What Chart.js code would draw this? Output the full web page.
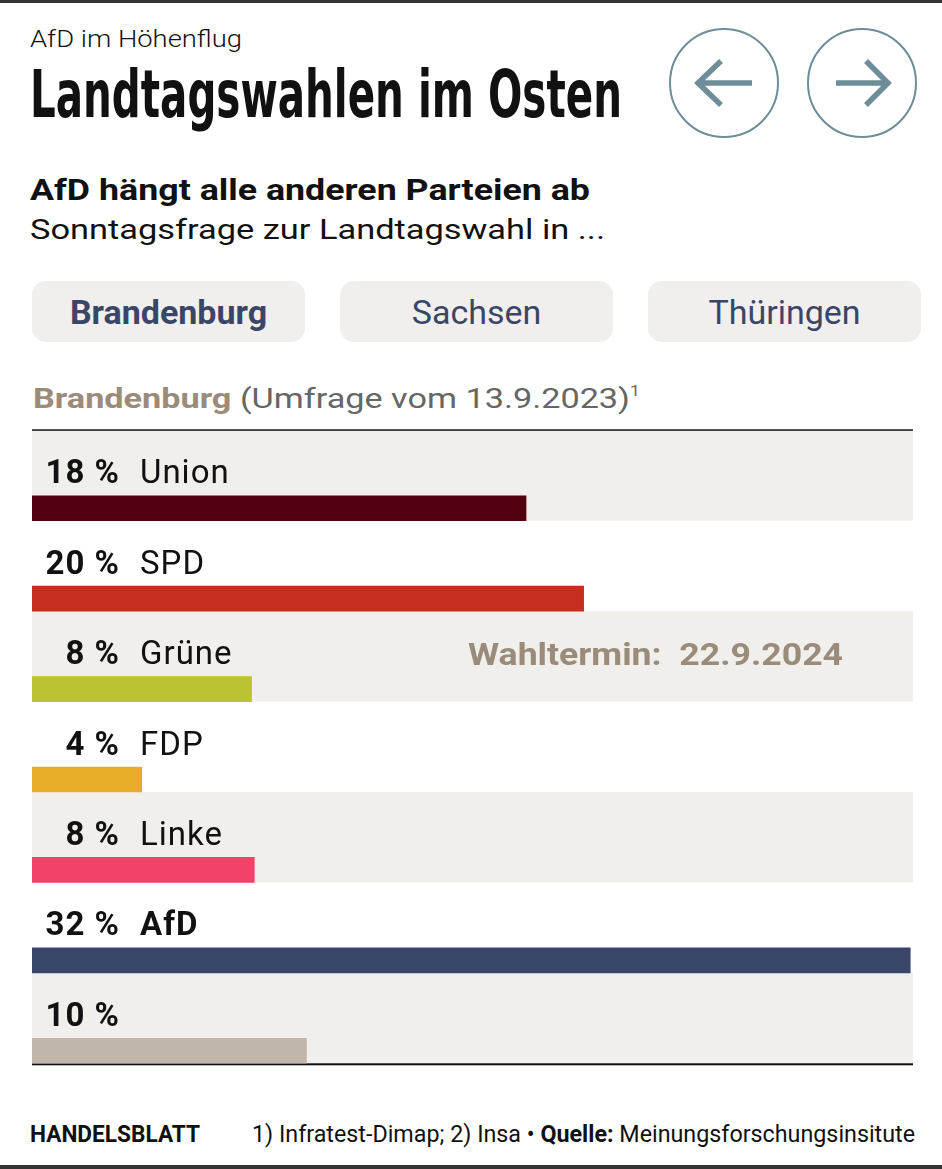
<!DOCTYPE html>
<html lang="de">
<head>
<meta charset="utf-8">
<title>Landtagswahlen im Osten</title>
<script src="https://cdn.jsdelivr.net/npm/chart.js@4.4.1/dist/chart.umd.min.js"></script>
<style>
  html, body { margin: 0; padding: 0; background: #fff; }
  body { width: 942px; height: 1169px; position: relative; overflow: hidden; font-family: Roboto, "Noto Sans", sans-serif; color: #111; }
  .abs { position: absolute; white-space: nowrap; line-height: 1; }
  .fit { display: inline-block; transform-origin: 0 0; }
  .rule { position: absolute; left: 0; width: 942px; height: 3px; background: #333; }
  .kicker { left: 30px; top: 27px; font-size: 24px; font-weight: 300; }
  .title { left: 30px; top: 62px; font-size: 66px; font-weight: 700; font-family: "Liberation Sans Narrow", "DejaVu Sans Condensed", Roboto, sans-serif; }
  .sub1 { left: 30px; top: 176px; font-size: 29px; font-weight: 700; }
  .sub2 { left: 30px; top: 216px; font-size: 28px; font-weight: 400; }
  .tab { position: absolute; top: 281px; width: 273px; height: 61px; border-radius: 14px; background: #f0efed;
         display: flex; align-items: center; justify-content: center; font-size: 34px; color: #3a4668; }
  .head { left: 33px; top: 384px; font-size: 27px; color: #666; }
  .head b { color: #9a8b7b; }
  .head sup { font-size: 14px; vertical-align: 12px; }
  .termin { left: 468px; top: 638px; font-size: 32px; font-weight: 700; color: #9a8b7b; z-index: 2; }
  .foot1 { left: 30px; top: 1122px; font-size: 24px; font-weight: 700; }
  .foot2 { left: 252px; top: 1122px; font-size: 24px; font-weight: 400; }
  #wrap { position: absolute; left: 0; top: 420px; width: 942px; height: 700px; }
</style>
</head>
<body>
<div class="rule" style="top:0"></div>

<div class="abs kicker"><span class="fit" data-w="212">AfD im Höhenflug</span></div>
<div class="abs title"><span class="fit" data-w="592">Landtagswahlen im Osten</span></div>

<svg style="position:absolute;left:0;top:0" width="942" height="150">
  <g fill="none" stroke="#6d8d98">
    <circle cx="724" cy="83" r="54" stroke-width="2"/>
    <circle cx="862" cy="83" r="54" stroke-width="2"/>
    <path d="M698 83 H752 M721 61 L698 83 L721 105" stroke-width="5.5"/>
    <path d="M836 83 H888 M866 61 L888 83 L866 105" stroke-width="5.5"/>
  </g>
</svg>

<div class="abs sub1"><span class="fit" data-w="560">AfD hängt alle anderen Parteien ab</span></div>
<div class="abs sub2"><span class="fit" data-w="575">Sonntagsfrage zur Landtagswahl in ...</span></div>

<div class="tab" style="left:32px;font-weight:700">Brandenburg</div>
<div class="tab" style="left:340px">Sachsen</div>
<div class="tab" style="left:648px">Thüringen</div>

<div class="abs head"><span class="fit" data-w="607"><b>Brandenburg</b> (Umfrage vom 13.9.2023)<sup>1</sup></span></div>

<div id="wrap"><canvas id="chart"></canvas></div>

<div class="abs termin"><span class="fit" data-w="375">Wahltermin:&nbsp; 22.9.2024</span></div>

<div class="abs foot1"><span class="fit" data-w="170">HANDELSBLATT</span></div>
<div class="abs foot2"><span class="fit" data-w="663">1) Infratest-Dimap; 2) Insa • <b>Quelle:</b> Meinungsforschungsinsitute</span></div>

<div class="rule" style="top:1165px;height:4px"></div>

<script>
// Umfragewerte Brandenburg (Prozent), Balkenlängen aus dem Bild gelesen
const parties = ['Union', 'SPD', 'Grüne', 'FDP', 'Linke', 'AfD', ''];
const shares = [18, 20.1, 8, 4, 8.1, 32, 10];
const shareLabels = ['18 %', '20 %', '8 %', '4 %', '8 %', '32 %', '10 %'];
const colors = ['#530011', '#c62e1f', '#bcc331', '#e7ad2a', '#f3416a', '#3a4668', '#c0b6ab'];

const BAR = 25;          // bar thickness
const BAND = '#f0efec';  // row background

// Draw row backgrounds, rules and the text above each bar
const rowsPlugin = {
    id: 'rows',
    beforeDatasetsDraw(chart) {
        const { ctx, chartArea, scales: { y } } = chart;
        const rowH = (chartArea.bottom - chartArea.top) / parties.length;
        ctx.save();
        parties.forEach((p, i) => {
            const bottom = y.getPixelForValue(i) + BAR / 2;
            if (i % 2 === 0) {
                ctx.fillStyle = BAND;
                ctx.fillRect(chartArea.left, bottom - rowH, chartArea.right - chartArea.left, rowH);
            }
        });
        const top = y.getPixelForValue(0) + BAR / 2 - rowH;
        const last = y.getPixelForValue(parties.length - 1) + BAR / 2;
        ctx.fillStyle = '#111';
        ctx.fillRect(chartArea.left, top - 1, chartArea.right - chartArea.left, 1.5);
        ctx.fillRect(chartArea.left, last, chartArea.right - chartArea.left, 2);
        ctx.restore();
    },
    afterDatasetsDraw(chart) {
        const { ctx, chartArea, scales: { y } } = chart;
        const rowH = (chartArea.bottom - chartArea.top) / parties.length;
        ctx.save();
        ctx.textBaseline = 'alphabetic';
        ctx.letterSpacing = '1px';
        parties.forEach((p, i) => {
            const base = y.getPixelForValue(i) + BAR / 2 - rowH + 53;
            ctx.fillStyle = '#111';
            ctx.font = 'bold 33px Roboto, sans-serif';
            ctx.textAlign = 'right';
            ctx.fillText(shareLabels[i], 120, base);
            ctx.textAlign = 'left';
            ctx.font = (p === 'AfD' ? 'bold ' : '') + '33px Roboto, sans-serif';
            ctx.fillText(p, 140, base);
        });
        ctx.restore();
    }
};

function fitTexts() {
    document.querySelectorAll('.fit').forEach(el => {
        const w = el.getBoundingClientRect().width;
        el.style.transform = `scaleX(${el.dataset.w / w})`;
    });
}

document.fonts.ready.then(() => {
    fitTexts();
    new Chart(document.getElementById('chart'), {
        type: 'bar',
        data: {
            labels: parties,
            datasets: [{
                data: shares,
                backgroundColor: colors,
                barThickness: BAR,
                borderWidth: 0
            }]
        },
        options: {
            indexAxis: 'y',
            responsive: true,
            maintainAspectRatio: false,
            animation: false,
            layout: { padding: { left: 32, right: 29, top: 43, bottom: 24 } },
            scales: {
                x: { display: false, min: 0, max: 32.1 },
                y: { display: false }
            },
            plugins: {
                legend: { display: false },
                tooltip: { enabled: false }
            }
        },
        plugins: [rowsPlugin]
    });
});
</script>
</body>
</html>
